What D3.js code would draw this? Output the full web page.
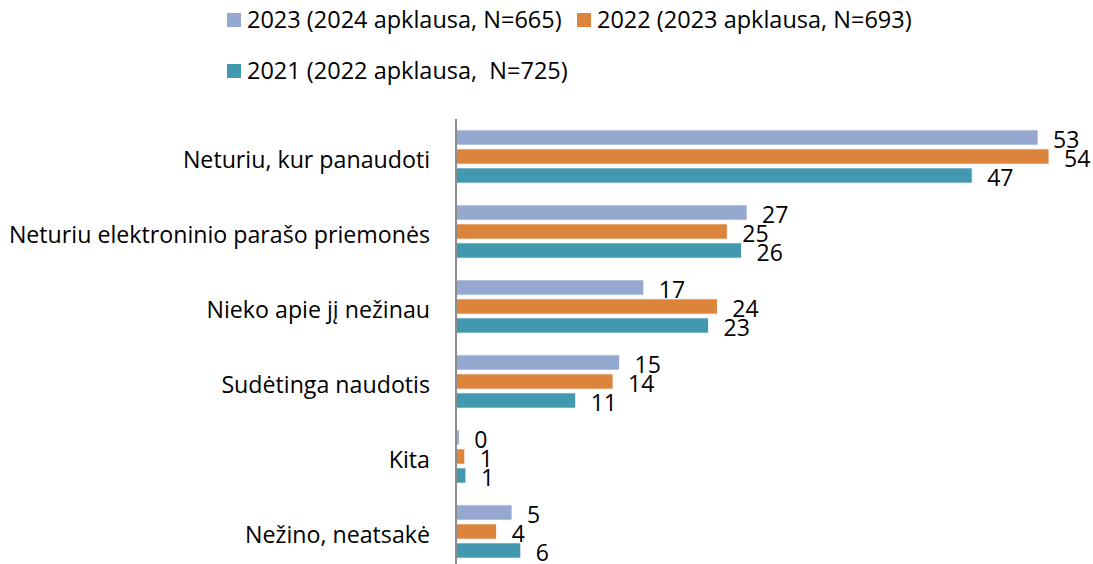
<html>
<head>
<style>
  body { margin: 0; background: white; }
  text { font-family: "Open Sans", "Liberation Sans", Arial, sans-serif; fill: #000; }
</style>
<script src="https://d3js.org/d3.v7.min.js"></script>
</head>
<body>
<script>
// categories (top to bottom)
var categories = ["Neturiu, kur panaudoti", "Neturiu elektroninio parašo priemonės",
  "Nieko apie jį nežinau", "Sudėtinga naudotis", "Kita", "Nežino, neatsakė"];

// series, in legend / bar order
var seriesNames = ["2023 (2024 apklausa, N=665)", "2022 (2023 apklausa, N=693)", "2021 (2022 apklausa,  N=725)"];
var v2023 = [53, 26.5, 17.1, 14.9, 0.3, 5.1];
var v2022 = [54, 24.7, 23.8, 14.3, 0.8, 3.7];
var v2021 = [47, 26.0, 23.0, 10.9, 0.9, 5.9];
var colors = ["#94a8d0", "#dc843c", "#4298af"];

var width = 1093, height = 564;
var series = [v2023, v2022, v2021];

var svg = d3.select("body").append("svg")
  .attr("width", width).attr("height", height);

var x = d3.scaleLinear().domain([0, 54]).range([456, 1049]);

var y0 = d3.scaleBand().domain(categories)
  .range([119, 569]).paddingInner(0.24).paddingOuter(0.12);
var y1 = d3.scaleBand().domain(d3.range(series.length))
  .range([0, y0.bandwidth()]).paddingInner(0.2).paddingOuter(0.1);

var fmt = d3.format(".0f");

// bars
var groups = svg.selectAll("g.cat").data(categories).enter()
  .append("g").attr("class", "cat")
  .attr("transform", function(d) { return "translate(0," + y0(d) + ")"; });

groups.each(function(c, ci) {
  var g = d3.select(this);
  series.forEach(function(s, si) {
    g.append("rect")
      .attr("x", x(0))
      .attr("y", y1(si))
      .attr("width", x(s[ci]) - x(0))
      .attr("height", y1.bandwidth())
      .attr("fill", colors[si])
      .attr("stroke", "#fff").attr("stroke-width", 0.8);
    g.append("text")
      .attr("x", x(s[ci]) + 15)
      .attr("y", y1(si) + y1.bandwidth() / 2 + 2)
      .attr("dy", "0.36em")
      .style("font-size", "23px")
      .text(fmt(s[ci]));
  });
});

// category axis
var yAxis = d3.axisLeft(y0).tickSize(0).tickPadding(26);
var ax = svg.append("g").attr("transform", "translate(" + 456 + ",0)").call(yAxis);
ax.select(".domain").remove();
ax.selectAll("text").style("font-size", "23.2px").attr("dy", "0.5em")
  .style("font-family", "'Open Sans', 'Liberation Sans', Arial, sans-serif");
svg.append("line")
  .attr("x1", 456).attr("x2", 456).attr("y1", 119).attr("y2", 564)
  .attr("stroke", "#8c8c8c").attr("stroke-width", 2);

// legend
var legendPos = [[227, 20], [577, 20], [227, 71]];
var leg = svg.selectAll("g.leg").data(seriesNames).enter()
  .append("g").attr("class", "leg")
  .attr("transform", function(d, i) { return "translate(" + legendPos[i][0] + "," + legendPos[i][1] + ")"; });
leg.append("rect").attr("x", 0).attr("y", -7).attr("width", 14).attr("height", 14)
  .attr("fill", function(d, i) { return colors[i]; });
leg.append("text").attr("x", 20).attr("dy", "0.36em")
  .style("font-size", "23.5px").style("white-space", "pre")
  .text(function(d) { return d; });
</script>
</body>
</html>
